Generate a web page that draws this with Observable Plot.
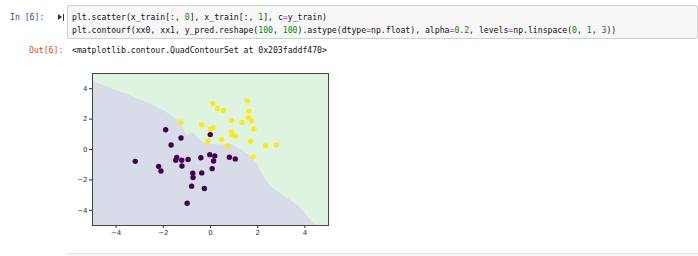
<!DOCTYPE html>
<html>
<head>
<meta charset="utf-8">
<script src="https://cdn.jsdelivr.net/npm/d3@7"></script>
<script src="https://cdn.jsdelivr.net/npm/@observablehq/plot@0.6"></script>
<style>
  html, body { margin: 0; padding: 0; background: #fff; }
  #page { position: relative; width: 698px; height: 256px; overflow: hidden; background: #fff; }
  .mono { font-family: "DejaVu Sans Mono", "Liberation Mono", monospace; font-size: 9.5px; line-height: 12.5px; white-space: pre; position: absolute; transform: scaleX(0.857); transform-origin: 0 0; color: #111; }
  .inp { color: #303F9F; }
  .outp { color: #D84315; }
  .g { color: #008800; }
  .o { color: #AA22FF; }
  #codebox { position: absolute; left: 67px; top: 5px; width: 629px; height: 32px; background: #f7f7f7; border: 1px solid #cfcfcf; border-radius: 2px; }
  #icon { position: absolute; left: 58px; top: 14px; width: 6px; height: 7px; }
  #icon .bar { position: absolute; left: 4.5px; top: 0; width: 1.5px; height: 7px; background: #333; }
  #icon .tri { position: absolute; left: 0; top: 0; width: 0; height: 0; border-top: 3.5px solid transparent; border-bottom: 3.5px solid transparent; border-left: 4.5px solid #333; }
  #chart { position: absolute; left: 60px; top: 66px; }
  #nextcell { position: absolute; left: 67px; top: 253px; width: 631px; height: 6px; background: #f7f7f7; border-top: 1px solid #e3e3e3; }
</style>
</head>
<body>
<div id="page">
  <div class="mono inp" style="left:10px; top:11px;">In [6]:</div>
  <div id="icon"><div class="tri"></div><div class="bar"></div></div>
  <div id="codebox"></div>
  <div class="mono" style="left:72px; top:11px;">plt.scatter(x_train[:, <span class="g">0</span>], x_train[:, <span class="g">1</span>], c<span class="o">=</span>y_train)</div>
  <div class="mono" style="left:72px; top:23.5px;">plt.contourf(xx0, xx1, y_pred.reshape(<span class="g">100</span>, <span class="g">100</span>).astype(dtype<span class="o">=</span>np.float), alpha<span class="o">=</span><span class="g">0.2</span>, levels<span class="o">=</span>np.linspace(<span class="g">0</span>, <span class="g">1</span>, <span class="g">3</span>))</div>
  <div class="mono outp" style="left:29px; top:44px;">Out[6]:</div>
  <div class="mono" style="left:72px; top:44px;">&lt;matplotlib.contour.QuadContourSet at 0x203faddf470&gt;</div>
  <div id="chart"></div>
  <div id="nextcell"></div>
</div>
<script>
// Class 1 (yellow) training points
const yellowX = [-1.26, -0.37, 0.10, 0.30, 0.55, 1.55, 1.63, 1.60, 1.74, 1.33, 0.88, 1.84, 0.00, 0.10, 0.89, 0.91, 1.05, 0.47, -0.11, 0.74, 1.70, 2.34, 2.79, 1.82];
const yellowY = [1.80, 1.63, 3.02, 2.70, 2.57, 3.20, 2.52, 2.11, 1.89, 1.78, 1.91, 1.35, 1.33, 1.43, 1.13, 1.00, 0.87, 0.65, 0.55, 0.24, 0.54, 0.24, 0.30, -0.48];
// Class 0 (purple) training points
const purpleX = [-1.90, -1.25, -1.67, -0.01, -3.19, -1.43, -1.47, -1.22, -0.95, -1.21, -0.41, -0.03, 0.18, 0.13, 0.07, 0.80, 1.05, -2.20, -2.10, -0.75, -0.74, -0.37, -0.80, -0.26, -0.99];
const purpleY = [1.30, 0.76, 0.30, 0.98, -0.78, -0.52, -0.71, -0.70, -0.65, -1.09, -0.54, -0.34, -0.42, -0.76, -1.26, -0.51, -0.62, -1.11, -1.41, -1.56, -1.84, -1.54, -2.41, -2.57, -3.54];
// Decision boundary (class 0 region lies below it)
const boundaryX = [-5.0, -4.68, -4.26, -3.83, -3.54, -3.12, -2.69, -2.27, -1.84, -1.70, -1.35, -1.14, -0.99, -0.88, -0.78, -0.64, -0.50, -0.35, -0.21, 0.0, 0.43, 0.78, 0.99, 1.20, 1.42, 1.70, 1.99, 2.20, 2.41, 2.69, 2.98, 3.40, 3.69, 3.97, 4.18, 4.45];
const boundaryY = [4.53, 4.31, 4.04, 3.78, 3.65, 3.35, 3.07, 2.79, 2.41, 2.28, 1.86, 1.35, 0.92, 1.02, 1.12, 1.00, 0.70, 0.52, 0.40, 0.34, 0.29, 0.37, 0.29, 0.09, -0.13, -0.45, -1.00, -1.61, -2.15, -2.58, -2.91, -3.35, -3.67, -4.11, -4.54, -5.00];
const tickValues = [-4, -2, 0, 2, 4];
const axisDomain = [-5, 5];

const yellow = yellowX.map((x, i) => ({x, y: yellowY[i]}));
const purple = purpleX.map((x, i) => ({x, y: purpleY[i]}));
const boundary = boundaryX.map((x, i) => ({x, y: boundaryY[i]}));
const fmt = d => d < 0 ? "\u2212" + (-d) : String(d);

const chart = Plot.plot({
  width: 280,
  height: 180,
  marginLeft: 32,
  marginRight: 12,
  marginTop: 7,
  marginBottom: 21,
  x: {domain: axisDomain, label: null},
  y: {domain: axisDomain, label: null},
  style: {background: "transparent", fontFamily: "DejaVu Sans", fontSize: "7px", color: "#333"},
  marks: [
    Plot.frame({fill: "#dff4e0"}),
    Plot.areaY(boundary, {x: "x", y1: -5, y2: "y", fill: "#d8dce8"}),
    Plot.dot(purple, {x: "x", y: "y", r: 2.7, fill: "#440154"}),
    Plot.dot(yellow, {x: "x", y: "y", r: 2.7, fill: "#fde725"}),
    Plot.frame({stroke: "#444", strokeWidth: 1}),
    Plot.axisX({ticks: tickValues, tickSize: 3, tickPadding: 1.5, tickFormat: fmt, label: null}),
    Plot.axisY({ticks: tickValues, tickSize: 3, tickPadding: 2, tickFormat: fmt, label: null})
  ]
});
document.getElementById("chart").appendChild(chart);
</script>
</body>
</html>
